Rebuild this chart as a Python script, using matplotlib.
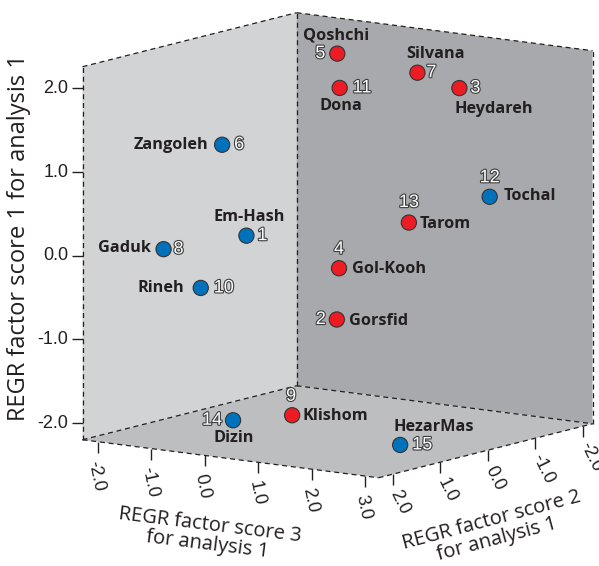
import matplotlib
matplotlib.use('Agg')
import matplotlib.pyplot as plt
import matplotlib.patheffects as pe
import matplotlib.markers as mmarkers
from matplotlib.transforms import offset_copy
from mpl_toolkits.mplot3d import proj3d
from mpl_toolkits.mplot3d.art3d import Poly3DCollection

# REGR factor scores of the sites (analysis 1)
site_no = [1, 2, 3, 4, 5, 6, 7, 8, 9, 10, 11, 12, 13, 14, 15]
site_name = ['Em-Hash', 'Gorsfid', 'Heydareh', 'Gol-Kooh', 'Qoshchi', 'Zangoleh', 'Silvana',
             'Gaduk', 'Klishom', 'Rineh', 'Dona', 'Tochal', 'Tarom', 'Dizin', 'HezarMas']
score1 = [0.34, -0.74, 2.02, -0.47, 2.05, 1.13, 1.88, -0.10, -2.04, -0.42, 1.73, 0.41, 0.27, -1.79, -1.98]
score2 = [1.60, 0.60, -0.30, -1.00, -1.20, 0.40, -1.50, 0.90, 0.20, 1.30, -0.80, -1.95, -0.60, 2.05, 1.35]
score3 = [0.16, 0.96, 2.45, -0.42, -0.63, -1.36, 0.60, -2.01, -0.23, -0.96, -0.23, 1.55, 1.24, 0.31, 2.81]
cluster = [2, 1, 1, 1, 1, 2, 1, 2, 1, 2, 1, 2, 1, 2, 2]

ticks1 = [-2.0, -1.0, 0.0, 1.0, 2.0]
ticks2 = [-2.0, -1.0, 0.0, 1.0, 2.0]
ticks3 = [-2.0, -1.0, 0.0, 1.0, 2.0, 3.0]

lim1 = (-2.2, 2.26)
lim2 = (-2.2, 2.3)
lim3 = (-2.28, 3.25)

# label offsets in pixels (dx, dy, ha) for site name and site number
name_pos = [(3, 19, 'center'), (12, -1, 'left'), (-5, -21, 'left'), (13, -1, 'left'),
            (-1, 18, 'center'), (-14, 0, 'right'), (18, 19, 'center'), (-13, 1, 'right'),
            (10, -1, 'left'), (-16, 0, 'right'), (1, -18, 'center'), (14, 1, 'left'),
            (11, -1, 'left'), (1, -18, 'center'), (-7, 18, 'left')]
num_pos = [(11, 0, 'left'), (-11, 0, 'right'), (11, 0, 'left'), (0, 19, 'center'),
           (-12, 0, 'right'), (12, 0, 'left'), (9, 0, 'left'), (10, 0, 'left'),
           (-1, 19, 'center'), (13, 0, 'left'), (13, 0, 'left'), (0, 19, 'center'),
           (0, 20, 'center'), (-11, 0, 'right'), (12, 0, 'left')]

cluster_color = {1: '#ED1C24', 2: '#0072BC'}
ink = '#231F20'

fig = plt.figure(figsize=(5.99, 5.66), dpi=100)
ax = fig.add_axes([0.0294, 0.0015, 1.0401, 1.1007], projection='3d')
ax.set_proj_type('ortho')
ax.view_init(elev=10.37, azim=35.5, roll=0)
ax.set_box_aspect((1.0135, 1.0, 1.043))
ax.set_xlim(*lim2)
ax.set_ylim(*lim3)
ax.set_zlim(*lim1)
ax.set_axis_off()
ax.computed_zorder = False

x0, x1 = lim2
y0, y1 = lim3
z0, z1 = lim1

# walls and floor
left_wall = [(x0, y0, z0), (x1, y0, z0), (x1, y0, z1), (x0, y0, z1)]
back_wall = [(x0, y0, z0), (x0, y1, z0), (x0, y1, z1), (x0, y0, z1)]
floor = [(x0, y0, z0), (x1, y0, z0), (x1, y1, z0), (x0, y1, z0)]
for face, col in [(left_wall, '#D1D3D4'), (back_wall, '#A7A9AC'), (floor, '#BCBEC0')]:
    pc = Poly3DCollection([face], facecolors=col, edgecolors='none', linewidths=0)
    pc.set_zorder(0)
    ax.add_collection3d(pc)

# dashed box edges
edges = [((x1, x0), (y0, y0), (z1, z1)), ((x1, x1), (y0, y0), (z0, z1)),
         ((x0, x0), (y0, y0), (z0, z1)), ((x0, x0), (y0, y1), (z1, z1)),
         ((x0, x0), (y1, y1), (z0, z1)), ((x1, x0), (y0, y0), (z0, z0)),
         ((x0, x0), (y0, y1), (z0, z0)), ((x1, x1), (y0, y1), (z0, z0)),
         ((x1, x0), (y1, y1), (z0, z0))]
for ex, ey, ez in edges:
    ax.plot(ex, ey, ez, color=ink, lw=0.9, linestyle=(0, (4, 3)), zorder=1)

# ticks
ax.plot([x1] * len(ticks1), [y0] * len(ticks1), ticks1, linestyle='none',
        marker=mmarkers.TICKLEFT, markersize=8, mew=1.0, color=ink, zorder=1)
ax.plot([x1] * len(ticks3), ticks3, [z0] * len(ticks3), linestyle='none',
        marker=mmarkers.TICKDOWN, markersize=8, mew=1.0, color=ink, zorder=1)
ax.plot(ticks2, [y1] * len(ticks2), [z0] * len(ticks2), linestyle='none',
        marker=mmarkers.TICKDOWN, markersize=8, mew=1.0, color=ink, zorder=1)

M = ax.get_proj()


def flat(x, y, z):
    xp, yp, _ = proj3d.proj_transform(x, y, z, M)
    return xp, yp


def shifted(dx, dy):
    return offset_copy(ax.transData, fig=fig, x=dx, y=dy, units='dots')


tick_font = dict(family=['Liberation Sans', 'DejaVu Sans'], fontsize=13, color=ink)

for t in ticks1:
    ax.text2D(*flat(x1, y0, t), f'{t:.1f}', transform=shifted(-14, 0),
              ha='right', va='center', zorder=2, **tick_font)
for t in ticks3:
    ax.text2D(*flat(x1, t, z0), f'{t:.1f}', transform=shifted(-4.5, -19), rotation=-78,
              ha='left', va='center', rotation_mode='anchor', zorder=2, **tick_font)
for t in ticks2:
    ax.text2D(*flat(t, y1, z0), f'{t:.1f}', transform=shifted(1, -16.5), rotation=-64,
              ha='left', va='center', rotation_mode='anchor', zorder=2, **tick_font)

# sites
colors = [cluster_color[c] for c in cluster]
ax.scatter(score2, score3, score1, s=120, c=colors, edgecolors='#333333',
           linewidths=0.8, depthshade=False, zorder=3)

outline = [pe.withStroke(linewidth=1.6, foreground='#3C3C3C')]
for i in range(len(site_no)):
    xp, yp = flat(score2[i], score3[i], score1[i])
    dx, dy, ha = name_pos[i]
    ax.text2D(xp, yp, site_name[i], transform=shifted(dx, dy), ha=ha, va='center',
              family='Open Sans', fontweight='bold', fontsize=11.7, color=ink, zorder=4)
    dx, dy, ha = num_pos[i]
    ax.text2D(xp, yp, str(site_no[i]), transform=shifted(dx, dy), ha=ha, va='center',
              family=['Liberation Sans', 'DejaVu Sans'], fontsize=13, color='white',
              path_effects=outline, zorder=4)

# axis titles
fig.text(0.031, 0.580, 'REGR factor score 1 for analysis 1', rotation=90,
         ha='center', va='center', family='Open Sans', fontsize=17, color=ink)
fig.text(0.349, 0.055, 'REGR factor score 3\nfor analysis 1', rotation=-7,
         ha='center', va='center', multialignment='center', linespacing=1.0,
         family='Open Sans', fontsize=14.5, color=ink, rotation_mode='anchor')
fig.text(0.825, 0.064, 'REGR factor score 2\nfor analysis 1', rotation=15,
         ha='center', va='center', multialignment='center', linespacing=1.0,
         family='Open Sans', fontsize=14.5, color=ink, rotation_mode='anchor')

fig.savefig('out.png', dpi=100, facecolor='white')
